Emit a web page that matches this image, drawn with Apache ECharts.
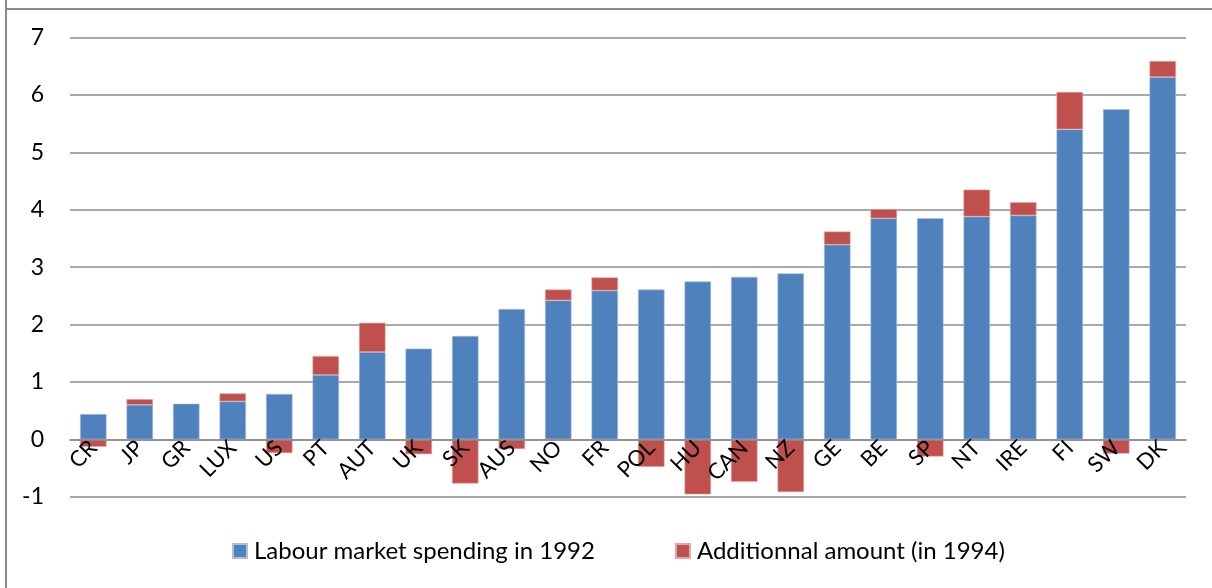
<!DOCTYPE html>
<html>
<head>
<meta charset="utf-8">
<script src="https://cdn.jsdelivr.net/npm/echarts@6/dist/echarts.min.js"></script>
<style>html,body{margin:0;padding:0;background:#fff}#c{width:1212px;height:588px}</style>
</head>
<body>
<div id="c"></div>
<script>
const categories = ['CR','JP','GR','LUX','US','PT','AUT','UK','SK','AUS','NO','FR','POL','HU','CAN','NZ','GE','BE','SP','NT','IRE','FI','SW','DK'];
const spending1992 = [0.44,0.60,0.62,0.66,0.79,1.12,1.52,1.58,1.80,2.27,2.42,2.59,2.61,2.75,2.83,2.89,3.39,3.85,3.85,3.88,3.90,5.40,5.75,6.31];
const additional1994 = [-0.13,0.10,-0.02,0.14,-0.24,0.33,0.51,-0.26,-0.77,-0.17,0.19,0.23,-0.48,-0.96,-0.74,-0.92,0.23,0.16,-0.30,0.47,0.23,0.65,-0.25,0.28];
const seriesNames = ['Labour market spending in 1992','Additionnal amount (in 1994)'];

const FONT = 'Lato';
const chart = echarts.init(document.getElementById('c'), null, {renderer:'canvas'});
chart.setOption({
  animation:false,
  backgroundColor:'#ffffff',
  textStyle:{fontFamily:FONT},
  graphic:[
    {type:'line', shape:{x1:6,y1:0,x2:6,y2:588}, style:{stroke:'#8a8a8a',lineWidth:2}, silent:true},
    {type:'line', shape:{x1:5,y1:9,x2:1212,y2:9}, style:{stroke:'#8a8a8a',lineWidth:2}, silent:true}
  ],
  grid:{left:70,right:26,top:37.5,bottom:91.3,containLabel:false},
  legend:{
    bottom:20, left:227,
    itemWidth:14, itemHeight:14, itemGap:80,
    icon:'rect',
    textStyle:{fontSize:24,color:'#000',fontFamily:FONT,padding:[0,0,0,2]},
    data:seriesNames
  },
  xAxis:{
    type:'category', data:categories,
    offset:-57.4, z:5,
    axisLine:{show:true,onZero:false,lineStyle:{color:'#8c8c8c',width:1.5}},
    axisTick:{show:false},
    axisLabel:{rotate:45,fontSize:22,color:'#000',margin:5,interval:0,fontFamily:FONT}
  },
  yAxis:{
    type:'value', min:-1, max:7, interval:1,
    axisLine:{show:false}, axisTick:{show:false},
    splitLine:{lineStyle:{color:'#8c8c8c',width:1.5}},
    axisLabel:{fontSize:23,color:'#000',margin:26,fontFamily:FONT}
  },
  series:[
    {name:seriesNames[0], type:'bar', stack:'s', data:spending1992, barWidth:'57%',
     itemStyle:{color:'#4F81BD',borderColor:'#a9c0e0',borderWidth:0.6}},
    {name:seriesNames[1], type:'bar', stack:'s', data:additional1994, barWidth:'57%',
     itemStyle:{color:'#C0504D',borderColor:'#e0a8a6',borderWidth:0.6}}
  ]
});
</script>
</body>
</html>
